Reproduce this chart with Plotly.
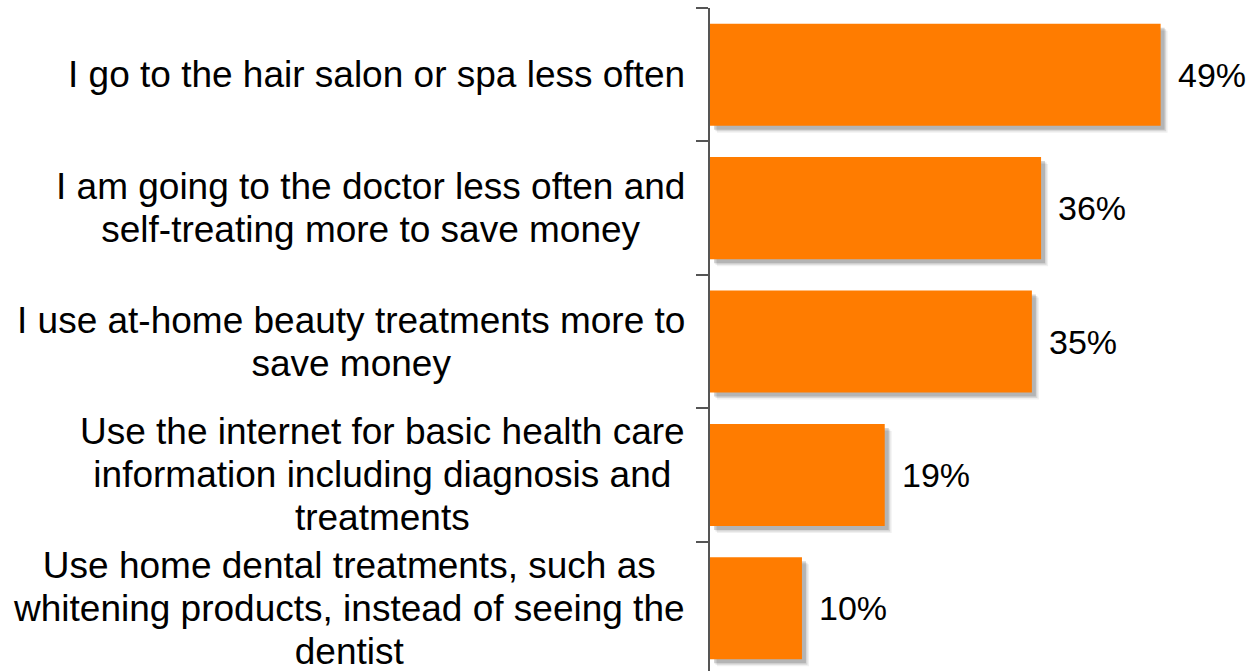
import plotly.graph_objects as go

# Survey answers, top to bottom, and share of respondents (%)
categories = [
    "I go to the hair salon or spa less often",
    "I am going to the doctor less often and<br>self-treating more to save money",
    "I use at-home beauty treatments more to<br>save money",
    "Use the internet for basic health care<br>information including diagnosis and<br>treatments",
    "Use home dental treatments, such as<br>whitening products, instead of seeing the<br>dentist",
]
values = [49, 36, 35, 19, 10]
value_labels = ["49%", "36%", "35%", "19%", "10%"]

BAR_COLOR = "#FF7C00"
BAR_WIDTH = 0.765
PX_PER_UNIT_X = 9.2      # horizontal pixels per percentage point
PX_PER_CAT = 133.4       # vertical pixels per category band

fig = go.Figure()

# soft drop shadow: a few translucent copies shifted right/down behind the bars
for shift_px, alpha in [(7, 0.06), (5.5, 0.10), (4, 0.16)]:
    dx = shift_px / PX_PER_UNIT_X
    dy = shift_px / PX_PER_CAT
    fig.add_trace(go.Bar(
        y=categories, x=values, base=dx, orientation="h",
        width=BAR_WIDTH, offset=-BAR_WIDTH / 2 + dy,
        marker=dict(color=f"rgba(0,0,0,{alpha})", line=dict(width=0)),
        hoverinfo="skip", showlegend=False,
    ))

fig.add_trace(go.Bar(
    y=categories, x=values, orientation="h",
    width=BAR_WIDTH, offset=-BAR_WIDTH / 2,
    marker=dict(color=BAR_COLOR, line=dict(width=0)),
    showlegend=False,
))

annotations = []
# category labels, centred lines, right edge just left of the axis
for cat in categories:
    lines = cat.split("<br>")
    text = "<br>".join(f'<span style="font-size:37px">{ln}</span>' for ln in lines)
    annotations.append(dict(
        x=0, xref="paper", y=cat, yref="y",
        xanchor="right", yanchor="middle", xshift=-23,
        text=text, align="center", showarrow=False,
        font=dict(family="Liberation Sans, Arial, sans-serif", size=33, color="#000000"),
    ))
# value labels to the right of each bar
for cat, v, lab in zip(categories, values, value_labels):
    annotations.append(dict(
        x=v, xref="x", y=cat, yref="y",
        xanchor="left", yanchor="middle", xshift=15,
        text=lab, showarrow=False,
        font=dict(family="Liberation Sans, Arial, sans-serif", size=34, color="#000000"),
    ))

fig.update_layout(
    width=1254, height=671,
    margin=dict(l=710, r=29, t=8, b=0),
    paper_bgcolor="white", plot_bgcolor="white",
    barmode="overlay",
    annotations=annotations,
    xaxis=dict(range=[0, 56], visible=False, fixedrange=True),
    yaxis=dict(
        type="category",
        categoryorder="array", categoryarray=categories,
        range=[4.47, -0.5],
        showticklabels=False,
        tickson="boundaries", ticks="outside", ticklen=12, tickwidth=2,
        tickcolor="#555555",
        showline=True, linecolor="#555555", linewidth=2,
        showgrid=False, zeroline=False, fixedrange=True,
    ),
)

fig.write_html("out.html")
